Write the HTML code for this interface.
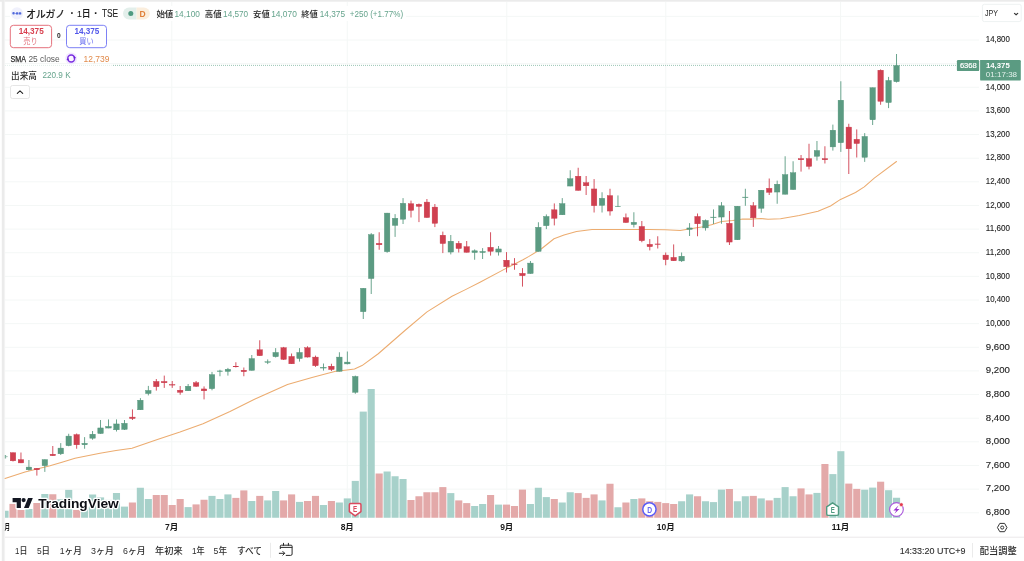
<!DOCTYPE html>
<html lang="ja">
<head>
<meta charset="utf-8">
<title>オルガノ · 1日 · TSE — TradingView</title>
<style>
html,body{margin:0;padding:0;background:#fff;}
body{width:1024px;height:561px;overflow:hidden;position:relative;font-family:"Liberation Sans", "Noto Sans CJK JP", sans-serif;}
#chart{position:absolute;left:0;top:0;width:1024px;height:561px;display:block;will-change:transform;}
#chart text{font-family:"Liberation Sans", "Noto Sans CJK JP", sans-serif;}
</style>
</head>
<body>
<svg id="chart" width="1024" height="561" viewBox="0 0 1024 561">
<g id="frame">
<rect x="0" y="0" width="1024" height="561" fill="#ffffff"/>
<rect x="0" y="0" width="1024" height="1.7" fill="#ebebeb"/>
<rect x="1.8" y="0" width="2.4" height="561" fill="#ebebeb"/>
<rect x="4.2" y="0" width="0.9" height="561" fill="#f1f1f1"/>
</g>
<g id="grid" stroke="#f4f7f6" stroke-width="1" fill="none">
<line x1="5" x2="979" y1="16.36" y2="16.36"/>
<line x1="5" x2="979" y1="40" y2="40"/>
<line x1="5" x2="979" y1="63.64" y2="63.64"/>
<line x1="5" x2="979" y1="87.27" y2="87.27"/>
<line x1="5" x2="979" y1="110.91" y2="110.91"/>
<line x1="5" x2="979" y1="134.55" y2="134.55"/>
<line x1="5" x2="979" y1="158.19" y2="158.19"/>
<line x1="5" x2="979" y1="181.82" y2="181.82"/>
<line x1="5" x2="979" y1="205.46" y2="205.46"/>
<line x1="5" x2="979" y1="229.1" y2="229.1"/>
<line x1="5" x2="979" y1="252.74" y2="252.74"/>
<line x1="5" x2="979" y1="276.37" y2="276.37"/>
<line x1="5" x2="979" y1="300.01" y2="300.01"/>
<line x1="5" x2="979" y1="323.65" y2="323.65"/>
<line x1="5" x2="979" y1="347.29" y2="347.29"/>
<line x1="5" x2="979" y1="370.92" y2="370.92"/>
<line x1="5" x2="979" y1="394.56" y2="394.56"/>
<line x1="5" x2="979" y1="418.2" y2="418.2"/>
<line x1="5" x2="979" y1="441.84" y2="441.84"/>
<line x1="5" x2="979" y1="465.47" y2="465.47"/>
<line x1="5" x2="979" y1="489.11" y2="489.11"/>
<line x1="5" x2="979" y1="512.75" y2="512.75"/>
<line x1="171.75" x2="171.75" y1="2" y2="518"/>
<line x1="347.25" x2="347.25" y1="2" y2="518"/>
<line x1="506.75" x2="506.75" y1="2" y2="518"/>
<line x1="665.75" x2="665.75" y1="2" y2="518"/>
<line x1="840.6" x2="840.6" y1="2" y2="518"/>
</g>
<g id="volume">
<rect x="5" y="510.75" width="3.59" height="7" fill="#a7d1ca"/>
<rect x="9.45" y="503.9" width="7.1" height="13.85" fill="#e3a9a9"/>
<rect x="17.41" y="510" width="7.1" height="7.75" fill="#e3a9a9"/>
<rect x="25.37" y="509" width="7.1" height="8.75" fill="#a7d1ca"/>
<rect x="33.33" y="503" width="7.1" height="14.75" fill="#e3a9a9"/>
<rect x="41.29" y="494" width="7.1" height="23.75" fill="#a7d1ca"/>
<rect x="49.25" y="494.25" width="7.1" height="23.5" fill="#e3a9a9"/>
<rect x="57.21" y="499.25" width="7.1" height="18.5" fill="#a7d1ca"/>
<rect x="65.17" y="489.9" width="7.1" height="27.85" fill="#a7d1ca"/>
<rect x="73.13" y="509.9" width="7.1" height="7.85" fill="#e3a9a9"/>
<rect x="81.09" y="507" width="7.1" height="10.75" fill="#a7d1ca"/>
<rect x="89.05" y="494.5" width="7.1" height="23.25" fill="#a7d1ca"/>
<rect x="97.01" y="497.4" width="7.1" height="20.35" fill="#a7d1ca"/>
<rect x="104.97" y="499.9" width="7.1" height="17.85" fill="#a7d1ca"/>
<rect x="112.93" y="493" width="7.1" height="24.75" fill="#a7d1ca"/>
<rect x="120.89" y="506.6" width="7.1" height="11.15" fill="#a7d1ca"/>
<rect x="128.85" y="502.5" width="7.1" height="15.25" fill="#e3a9a9"/>
<rect x="136.81" y="487.75" width="7.1" height="30" fill="#a7d1ca"/>
<rect x="144.77" y="499" width="7.1" height="18.75" fill="#a7d1ca"/>
<rect x="152.73" y="495" width="7.1" height="22.75" fill="#e3a9a9"/>
<rect x="160.69" y="495" width="7.1" height="22.75" fill="#e3a9a9"/>
<rect x="168.65" y="505" width="7.1" height="12.75" fill="#e3a9a9"/>
<rect x="176.61" y="499" width="7.1" height="18.75" fill="#e3a9a9"/>
<rect x="184.57" y="507.1" width="7.1" height="10.65" fill="#a7d1ca"/>
<rect x="192.53" y="504.4" width="7.1" height="13.35" fill="#e3a9a9"/>
<rect x="200.49" y="499.75" width="7.1" height="18" fill="#e3a9a9"/>
<rect x="208.45" y="495.9" width="7.1" height="21.85" fill="#a7d1ca"/>
<rect x="216.41" y="499" width="7.1" height="18.75" fill="#a7d1ca"/>
<rect x="224.37" y="494.4" width="7.1" height="23.35" fill="#a7d1ca"/>
<rect x="232.33" y="497.9" width="7.1" height="19.85" fill="#e3a9a9"/>
<rect x="240.29" y="490.4" width="7.1" height="27.35" fill="#e3a9a9"/>
<rect x="248.25" y="501" width="7.1" height="16.75" fill="#a7d1ca"/>
<rect x="256.21" y="495.9" width="7.1" height="21.85" fill="#e3a9a9"/>
<rect x="264.17" y="500.4" width="7.1" height="17.35" fill="#a7d1ca"/>
<rect x="272.13" y="491" width="7.1" height="26.75" fill="#a7d1ca"/>
<rect x="280.09" y="500.4" width="7.1" height="17.35" fill="#e3a9a9"/>
<rect x="288.05" y="494.4" width="7.1" height="23.35" fill="#e3a9a9"/>
<rect x="296.01" y="501.9" width="7.1" height="15.85" fill="#a7d1ca"/>
<rect x="303.97" y="501" width="7.1" height="16.75" fill="#e3a9a9"/>
<rect x="311.93" y="495.9" width="7.1" height="21.85" fill="#e3a9a9"/>
<rect x="319.89" y="505" width="7.1" height="12.75" fill="#a7d1ca"/>
<rect x="327.85" y="501" width="7.1" height="16.75" fill="#e3a9a9"/>
<rect x="335.81" y="502.5" width="7.1" height="15.25" fill="#a7d1ca"/>
<rect x="343.77" y="498.4" width="7.1" height="19.35" fill="#a7d1ca"/>
<rect x="351.73" y="480.9" width="7.1" height="36.85" fill="#a7d1ca"/>
<rect x="359.69" y="411.6" width="7.1" height="106.15" fill="#a7d1ca"/>
<rect x="367.65" y="389" width="7.1" height="128.75" fill="#a7d1ca"/>
<rect x="375.61" y="473.5" width="7.1" height="44.25" fill="#e3a9a9"/>
<rect x="383.57" y="471.5" width="7.1" height="46.25" fill="#a7d1ca"/>
<rect x="391.53" y="476.25" width="7.1" height="41.5" fill="#a7d1ca"/>
<rect x="399.49" y="479" width="7.1" height="38.75" fill="#a7d1ca"/>
<rect x="407.45" y="500" width="7.1" height="17.75" fill="#e3a9a9"/>
<rect x="415.41" y="496.25" width="7.1" height="21.5" fill="#e3a9a9"/>
<rect x="423.37" y="492.25" width="7.1" height="25.5" fill="#e3a9a9"/>
<rect x="431.33" y="492.25" width="7.1" height="25.5" fill="#e3a9a9"/>
<rect x="439.29" y="487.1" width="7.1" height="30.65" fill="#e3a9a9"/>
<rect x="447.25" y="493.1" width="7.1" height="24.65" fill="#a7d1ca"/>
<rect x="455.21" y="500.4" width="7.1" height="17.35" fill="#e3a9a9"/>
<rect x="463.17" y="503.1" width="7.1" height="14.65" fill="#e3a9a9"/>
<rect x="471.13" y="506" width="7.1" height="11.75" fill="#a7d1ca"/>
<rect x="479.09" y="504" width="7.1" height="13.75" fill="#a7d1ca"/>
<rect x="487.05" y="495" width="7.1" height="22.75" fill="#e3a9a9"/>
<rect x="495.01" y="504.6" width="7.1" height="13.15" fill="#a7d1ca"/>
<rect x="502.97" y="504.6" width="7.1" height="13.15" fill="#e3a9a9"/>
<rect x="510.93" y="506" width="7.1" height="11.75" fill="#e3a9a9"/>
<rect x="518.89" y="489.6" width="7.1" height="28.15" fill="#e3a9a9"/>
<rect x="526.85" y="504" width="7.1" height="13.75" fill="#a7d1ca"/>
<rect x="534.81" y="487.75" width="7.1" height="30" fill="#a7d1ca"/>
<rect x="542.77" y="497.1" width="7.1" height="20.65" fill="#a7d1ca"/>
<rect x="550.73" y="499" width="7.1" height="18.75" fill="#e3a9a9"/>
<rect x="558.69" y="502.5" width="7.1" height="15.25" fill="#a7d1ca"/>
<rect x="566.65" y="492.25" width="7.1" height="25.5" fill="#a7d1ca"/>
<rect x="574.61" y="493.1" width="7.1" height="24.65" fill="#e3a9a9"/>
<rect x="582.57" y="497.9" width="7.1" height="19.85" fill="#e3a9a9"/>
<rect x="590.53" y="494.4" width="7.1" height="23.35" fill="#e3a9a9"/>
<rect x="598.49" y="500.4" width="7.1" height="17.35" fill="#a7d1ca"/>
<rect x="606.45" y="483.75" width="7.1" height="34" fill="#e3a9a9"/>
<rect x="614.41" y="507.25" width="7.1" height="10.5" fill="#a7d1ca"/>
<rect x="622.37" y="502.5" width="7.1" height="15.25" fill="#e3a9a9"/>
<rect x="630.33" y="499" width="7.1" height="18.75" fill="#a7d1ca"/>
<rect x="638.29" y="498.4" width="7.1" height="19.35" fill="#e3a9a9"/>
<rect x="646.25" y="501.25" width="7.1" height="16.5" fill="#e3a9a9"/>
<rect x="654.21" y="501.9" width="7.1" height="15.85" fill="#e3a9a9"/>
<rect x="662.17" y="503.1" width="7.1" height="14.65" fill="#e3a9a9"/>
<rect x="670.13" y="504" width="7.1" height="13.75" fill="#e3a9a9"/>
<rect x="678.09" y="501.25" width="7.1" height="16.5" fill="#a7d1ca"/>
<rect x="686.05" y="494.4" width="7.1" height="23.35" fill="#a7d1ca"/>
<rect x="694.01" y="496.25" width="7.1" height="21.5" fill="#e3a9a9"/>
<rect x="701.97" y="501.25" width="7.1" height="16.5" fill="#a7d1ca"/>
<rect x="709.93" y="502.1" width="7.1" height="15.65" fill="#a7d1ca"/>
<rect x="717.89" y="489.6" width="7.1" height="28.15" fill="#a7d1ca"/>
<rect x="725.85" y="489" width="7.1" height="28.75" fill="#e3a9a9"/>
<rect x="733.81" y="501.25" width="7.1" height="16.5" fill="#a7d1ca"/>
<rect x="741.77" y="496.25" width="7.1" height="21.5" fill="#a7d1ca"/>
<rect x="749.73" y="495.9" width="7.1" height="21.85" fill="#e3a9a9"/>
<rect x="757.69" y="498.4" width="7.1" height="19.35" fill="#a7d1ca"/>
<rect x="765.65" y="500.4" width="7.1" height="17.35" fill="#e3a9a9"/>
<rect x="773.61" y="497.9" width="7.1" height="19.85" fill="#a7d1ca"/>
<rect x="781.57" y="487.1" width="7.1" height="30.65" fill="#a7d1ca"/>
<rect x="789.53" y="496.25" width="7.1" height="21.5" fill="#a7d1ca"/>
<rect x="797.49" y="488.4" width="7.1" height="29.35" fill="#e3a9a9"/>
<rect x="805.45" y="494.4" width="7.1" height="23.35" fill="#e3a9a9"/>
<rect x="813.41" y="492.9" width="7.1" height="24.85" fill="#a7d1ca"/>
<rect x="821.37" y="464" width="7.1" height="53.75" fill="#e3a9a9"/>
<rect x="829.33" y="474.1" width="7.1" height="43.65" fill="#a7d1ca"/>
<rect x="837.29" y="451.2" width="7.1" height="66.55" fill="#a7d1ca"/>
<rect x="845.25" y="483.6" width="7.1" height="34.15" fill="#e3a9a9"/>
<rect x="853.21" y="488.9" width="7.1" height="28.85" fill="#e3a9a9"/>
<rect x="861.17" y="489.7" width="7.1" height="28.05" fill="#a7d1ca"/>
<rect x="869.13" y="487.6" width="7.1" height="30.15" fill="#a7d1ca"/>
<rect x="877.09" y="481.7" width="7.1" height="36.05" fill="#e3a9a9"/>
<rect x="885.05" y="490.2" width="7.1" height="27.55" fill="#a7d1ca"/>
<rect x="893.01" y="497.75" width="7.1" height="20" fill="#a7d1ca"/>
</g>
<polyline id="sma" points="5,478.4 15,475.2 25,471.9 50,465.7 62,462.2 75,458.2 100,453.2 116,450.6 132,448.2 157.4,439.4 180,432 203,423.75 230,411.5 254.5,399.3 287.5,384.4 312,377.5 328,373.2 335.75,371.25 347,370 354.5,369.1 362,365.6 378.25,353.75 405.5,330 427,311.9 452,296.25 466,289.4 480,282.2 506.5,268.1 523,259.8 529,256.4 541.5,248.75 554,238.75 564,235 576.5,231.5 592,229.4 624,229.4 649,229.4 665.25,229.75 680.25,230.4 689,229 701.5,226.9 711.5,224.75 721.5,221.5 732.75,220.6 742.75,219.1 752,219.1 761,218.5 768,219.3 780.5,218.75 799.25,215.6 818,211.25 830.5,206 840.5,199.4 855.5,192.5 864.25,186.9 874.25,178.1 896.5,161.5" fill="none" stroke="#ecac70" stroke-width="1.05" stroke-linejoin="round" stroke-linecap="round"/>
<line id="priceline" x1="5" x2="957" y1="65.4" y2="65.4" stroke="#8fc0ad" stroke-width="0.9" stroke-dasharray="1 1"/>
<rect x="5" y="64" width="107" height="3" fill="#fff" opacity="0.72"/>
<g id="candles">
<rect x="4.8" y="455" width="1.3" height="3.5" fill="#5b9b82" opacity="0.75"/>
<rect x="6" y="456.2" width="1.7" height="0.9" fill="#5b9b82" opacity="0.6"/>
<rect x="12.55" y="452.5" width="0.9" height="9" fill="#d04050"/>
<rect x="10.25" y="452.7" width="5.5" height="8.1" fill="#d04050" stroke="#c93a4b" stroke-width="0.4"/>
<rect x="20.51" y="452.5" width="0.9" height="10.6" fill="#d04050"/>
<rect x="18.21" y="459.6" width="5.5" height="3.3" fill="#d04050" stroke="#c93a4b" stroke-width="0.4"/>
<rect x="28.47" y="460" width="0.9" height="10.6" fill="#5b9b82"/>
<rect x="26.17" y="467.1" width="5.5" height="2.7" fill="#5b9b82" stroke="#529378" stroke-width="0.4"/>
<rect x="36.43" y="468.1" width="0.9" height="7.5" fill="#d04050"/>
<rect x="34.13" y="468.3" width="5.5" height="1.5" fill="#d04050" stroke="#c93a4b" stroke-width="0.4"/>
<rect x="44.39" y="459.4" width="0.9" height="12.5" fill="#5b9b82"/>
<rect x="42.09" y="459.6" width="5.5" height="6.1" fill="#5b9b82" stroke="#529378" stroke-width="0.4"/>
<rect x="52.35" y="446" width="0.9" height="9.9" fill="#d04050"/>
<rect x="50.05" y="454.2" width="5.5" height="1.5" fill="#d04050" stroke="#c93a4b" stroke-width="0.4"/>
<rect x="60.31" y="443.1" width="0.9" height="11.9" fill="#5b9b82"/>
<rect x="58.01" y="448.1" width="5.5" height="5.7" fill="#5b9b82" stroke="#529378" stroke-width="0.4"/>
<rect x="68.27" y="433.75" width="0.9" height="12.5" fill="#5b9b82"/>
<rect x="65.97" y="436.1" width="5.5" height="9.6" fill="#5b9b82" stroke="#529378" stroke-width="0.4"/>
<rect x="76.23" y="433.5" width="0.9" height="15.25" fill="#d04050"/>
<rect x="73.93" y="434.6" width="5.5" height="10.2" fill="#d04050" stroke="#c93a4b" stroke-width="0.4"/>
<rect x="84.19" y="437.1" width="0.9" height="11.65" fill="#5b9b82"/>
<rect x="81.89" y="443.3" width="5.5" height="1.5" fill="#5b9b82" stroke="#529378" stroke-width="0.4"/>
<rect x="92.15" y="431" width="0.9" height="8.75" fill="#5b9b82"/>
<rect x="89.85" y="434.2" width="5.5" height="4" fill="#5b9b82" stroke="#529378" stroke-width="0.4"/>
<rect x="100.11" y="420" width="0.9" height="13.75" fill="#5b9b82"/>
<rect x="97.81" y="427.95" width="5.5" height="5.6" fill="#5b9b82" stroke="#529378" stroke-width="0.4"/>
<rect x="108.07" y="419.4" width="0.9" height="8.85" fill="#5b9b82"/>
<rect x="105.77" y="426.45" width="5.5" height="1.6" fill="#5b9b82" stroke="#529378" stroke-width="0.4"/>
<rect x="116.03" y="419.4" width="0.9" height="12.1" fill="#5b9b82"/>
<rect x="113.73" y="423.95" width="5.5" height="5.85" fill="#5b9b82" stroke="#529378" stroke-width="0.4"/>
<rect x="123.99" y="420" width="0.9" height="10" fill="#5b9b82"/>
<rect x="121.69" y="423.3" width="5.5" height="6.1" fill="#5b9b82" stroke="#529378" stroke-width="0.4"/>
<rect x="131.95" y="409.4" width="0.9" height="10.6" fill="#d04050"/>
<rect x="129.65" y="417.1" width="5.5" height="1.45" fill="#d04050" stroke="#c93a4b" stroke-width="0.4"/>
<rect x="139.91" y="398.1" width="0.9" height="11.9" fill="#5b9b82"/>
<rect x="137.61" y="400.2" width="5.5" height="9.6" fill="#5b9b82" stroke="#529378" stroke-width="0.4"/>
<rect x="147.87" y="385.9" width="0.9" height="9.5" fill="#5b9b82"/>
<rect x="145.57" y="390.45" width="5.5" height="3.1" fill="#5b9b82" stroke="#529378" stroke-width="0.4"/>
<rect x="155.83" y="379" width="0.9" height="11.6" fill="#d04050"/>
<rect x="153.53" y="381.45" width="5.5" height="5.25" fill="#d04050" stroke="#c93a4b" stroke-width="0.4"/>
<rect x="163.79" y="375.6" width="0.9" height="12.3" fill="#d04050"/>
<rect x="161.49" y="381.45" width="5.5" height="1.35" fill="#d04050" stroke="#c93a4b" stroke-width="0.4"/>
<rect x="171.75" y="381" width="0.9" height="6.9" fill="#d04050"/>
<rect x="169.45" y="384.6" width="5.5" height="0.5" fill="#d04050" stroke="#c93a4b" stroke-width="0.4"/>
<rect x="179.71" y="386" width="0.9" height="8.75" fill="#d04050"/>
<rect x="177.41" y="390.2" width="5.5" height="2.1" fill="#d04050" stroke="#c93a4b" stroke-width="0.4"/>
<rect x="187.67" y="384" width="0.9" height="7" fill="#5b9b82"/>
<rect x="185.37" y="386.2" width="5.5" height="4.6" fill="#5b9b82" stroke="#529378" stroke-width="0.4"/>
<rect x="195.63" y="381" width="0.9" height="5.9" fill="#d04050"/>
<rect x="193.33" y="382.7" width="5.5" height="3.6" fill="#d04050" stroke="#c93a4b" stroke-width="0.4"/>
<rect x="203.59" y="386.4" width="0.9" height="13" fill="#d04050"/>
<rect x="201.29" y="388.95" width="5.5" height="1.85" fill="#d04050" stroke="#c93a4b" stroke-width="0.4"/>
<rect x="211.55" y="371.9" width="0.9" height="18.4" fill="#5b9b82"/>
<rect x="209.25" y="374.6" width="5.5" height="14.1" fill="#5b9b82" stroke="#529378" stroke-width="0.4"/>
<rect x="219.51" y="369.75" width="0.9" height="6.5" fill="#5b9b82"/>
<rect x="217.21" y="370.95" width="5.5" height="0.5" fill="#5b9b82" stroke="#529378" stroke-width="0.4"/>
<rect x="227.47" y="367.9" width="0.9" height="7.7" fill="#5b9b82"/>
<rect x="225.17" y="369.3" width="5.5" height="2.1" fill="#5b9b82" stroke="#529378" stroke-width="0.4"/>
<rect x="235.43" y="362.25" width="0.9" height="5.25" fill="#d04050"/>
<rect x="233.13" y="366.2" width="5.5" height="0.6" fill="#d04050" stroke="#c93a4b" stroke-width="0.4"/>
<rect x="243.39" y="367.5" width="0.9" height="8.75" fill="#d04050"/>
<rect x="241.09" y="370.2" width="5.5" height="1.5" fill="#d04050" stroke="#c93a4b" stroke-width="0.4"/>
<rect x="251.35" y="355" width="0.9" height="15.6" fill="#5b9b82"/>
<rect x="249.05" y="358.6" width="5.5" height="11.8" fill="#5b9b82" stroke="#529378" stroke-width="0.4"/>
<rect x="259.31" y="340.25" width="0.9" height="15.65" fill="#d04050"/>
<rect x="257.01" y="349.8" width="5.5" height="5.9" fill="#d04050" stroke="#c93a4b" stroke-width="0.4"/>
<rect x="267.27" y="359.4" width="0.9" height="4.7" fill="#5b9b82"/>
<rect x="264.97" y="361.8" width="5.5" height="0.5" fill="#5b9b82" stroke="#529378" stroke-width="0.4"/>
<rect x="275.23" y="348.1" width="0.9" height="9.4" fill="#5b9b82"/>
<rect x="272.93" y="352.45" width="5.5" height="4.25" fill="#5b9b82" stroke="#529378" stroke-width="0.4"/>
<rect x="283.19" y="346.9" width="0.9" height="13.1" fill="#d04050"/>
<rect x="280.89" y="347.7" width="5.5" height="11.7" fill="#d04050" stroke="#c93a4b" stroke-width="0.4"/>
<rect x="291.15" y="353.5" width="0.9" height="10.5" fill="#d04050"/>
<rect x="288.85" y="356.45" width="5.5" height="7.35" fill="#d04050" stroke="#c93a4b" stroke-width="0.4"/>
<rect x="299.11" y="348.1" width="0.9" height="13.5" fill="#5b9b82"/>
<rect x="296.81" y="352.45" width="5.5" height="6.1" fill="#5b9b82" stroke="#529378" stroke-width="0.4"/>
<rect x="307.07" y="346.25" width="0.9" height="11.25" fill="#d04050"/>
<rect x="304.77" y="347.7" width="5.5" height="9.35" fill="#d04050" stroke="#c93a4b" stroke-width="0.4"/>
<rect x="315.03" y="355.6" width="0.9" height="11.3" fill="#d04050"/>
<rect x="312.73" y="357.1" width="5.5" height="8.6" fill="#d04050" stroke="#c93a4b" stroke-width="0.4"/>
<rect x="322.99" y="363.5" width="0.9" height="7.1" fill="#5b9b82"/>
<rect x="320.69" y="367.45" width="5.5" height="0.6" fill="#5b9b82" stroke="#529378" stroke-width="0.4"/>
<rect x="330.95" y="363.75" width="0.9" height="7.25" fill="#d04050"/>
<rect x="328.65" y="366.2" width="5.5" height="3.35" fill="#d04050" stroke="#c93a4b" stroke-width="0.4"/>
<rect x="338.91" y="352.25" width="0.9" height="19.25" fill="#5b9b82"/>
<rect x="336.61" y="357.1" width="5.5" height="14.2" fill="#5b9b82" stroke="#529378" stroke-width="0.4"/>
<rect x="346.87" y="351.5" width="0.9" height="12.9" fill="#5b9b82"/>
<rect x="344.57" y="362.1" width="5.5" height="1.8" fill="#5b9b82" stroke="#529378" stroke-width="0.4"/>
<rect x="354.83" y="375.6" width="0.9" height="18.15" fill="#5b9b82"/>
<rect x="352.53" y="376.45" width="5.5" height="15.85" fill="#5b9b82" stroke="#529378" stroke-width="0.4"/>
<rect x="362.79" y="288.1" width="0.9" height="30.9" fill="#5b9b82"/>
<rect x="360.49" y="288.3" width="5.5" height="23.4" fill="#5b9b82" stroke="#529378" stroke-width="0.4"/>
<rect x="370.75" y="233.1" width="0.9" height="60.9" fill="#5b9b82"/>
<rect x="368.45" y="234.6" width="5.5" height="43.95" fill="#5b9b82" stroke="#529378" stroke-width="0.4"/>
<rect x="378.71" y="232.25" width="0.9" height="17.5" fill="#d04050"/>
<rect x="376.41" y="243.3" width="5.5" height="1.5" fill="#d04050" stroke="#c93a4b" stroke-width="0.4"/>
<rect x="386.67" y="212.9" width="0.9" height="39.85" fill="#5b9b82"/>
<rect x="384.37" y="213.1" width="5.5" height="38.6" fill="#5b9b82" stroke="#529378" stroke-width="0.4"/>
<rect x="394.63" y="214.1" width="0.9" height="22.8" fill="#5b9b82"/>
<rect x="392.33" y="218.3" width="5.5" height="7.1" fill="#5b9b82" stroke="#529378" stroke-width="0.4"/>
<rect x="402.59" y="198.1" width="0.9" height="25.9" fill="#5b9b82"/>
<rect x="400.29" y="203.3" width="5.5" height="15.9" fill="#5b9b82" stroke="#529378" stroke-width="0.4"/>
<rect x="410.55" y="200.6" width="0.9" height="16.9" fill="#d04050"/>
<rect x="408.25" y="203.7" width="5.5" height="6.7" fill="#d04050" stroke="#c93a4b" stroke-width="0.4"/>
<rect x="418.51" y="203.5" width="0.9" height="18.6" fill="#d04050"/>
<rect x="416.21" y="204.3" width="5.5" height="2.1" fill="#d04050" stroke="#c93a4b" stroke-width="0.4"/>
<rect x="426.47" y="199" width="0.9" height="18.75" fill="#d04050"/>
<rect x="424.17" y="202.1" width="5.5" height="15.45" fill="#d04050" stroke="#c93a4b" stroke-width="0.4"/>
<rect x="434.43" y="204" width="0.9" height="23.1" fill="#d04050"/>
<rect x="432.13" y="207.1" width="5.5" height="16.2" fill="#d04050" stroke="#c93a4b" stroke-width="0.4"/>
<rect x="442.39" y="231.6" width="0.9" height="21.5" fill="#d04050"/>
<rect x="440.09" y="235.2" width="5.5" height="8.35" fill="#d04050" stroke="#c93a4b" stroke-width="0.4"/>
<rect x="450.35" y="235" width="0.9" height="19.4" fill="#5b9b82"/>
<rect x="448.05" y="241.2" width="5.5" height="10.85" fill="#5b9b82" stroke="#529378" stroke-width="0.4"/>
<rect x="458.31" y="241" width="0.9" height="11.5" fill="#d04050"/>
<rect x="456.01" y="243.3" width="5.5" height="5.25" fill="#d04050" stroke="#c93a4b" stroke-width="0.4"/>
<rect x="466.27" y="241" width="0.9" height="11.5" fill="#d04050"/>
<rect x="463.97" y="246.7" width="5.5" height="5.6" fill="#d04050" stroke="#c93a4b" stroke-width="0.4"/>
<rect x="474.23" y="249.4" width="0.9" height="10.35" fill="#5b9b82"/>
<rect x="471.93" y="250.8" width="5.5" height="1.75" fill="#5b9b82" stroke="#529378" stroke-width="0.4"/>
<rect x="482.19" y="248.1" width="0.9" height="10.9" fill="#5b9b82"/>
<rect x="479.89" y="251.45" width="5.5" height="1.1" fill="#5b9b82" stroke="#529378" stroke-width="0.4"/>
<rect x="490.15" y="232.25" width="0.9" height="23.35" fill="#d04050"/>
<rect x="487.85" y="247.3" width="5.5" height="4" fill="#d04050" stroke="#c93a4b" stroke-width="0.4"/>
<rect x="498.11" y="246" width="0.9" height="9.6" fill="#5b9b82"/>
<rect x="495.81" y="248.95" width="5.5" height="3.1" fill="#5b9b82" stroke="#529378" stroke-width="0.4"/>
<rect x="506.07" y="252.1" width="0.9" height="20.4" fill="#d04050"/>
<rect x="503.77" y="260.2" width="5.5" height="6.5" fill="#d04050" stroke="#c93a4b" stroke-width="0.4"/>
<rect x="514.03" y="258.1" width="0.9" height="11.65" fill="#d04050"/>
<rect x="511.73" y="263.95" width="5.5" height="0.6" fill="#d04050" stroke="#c93a4b" stroke-width="0.4"/>
<rect x="521.99" y="268.1" width="0.9" height="18.5" fill="#d04050"/>
<rect x="519.69" y="273.3" width="5.5" height="2.4" fill="#d04050" stroke="#c93a4b" stroke-width="0.4"/>
<rect x="529.95" y="261" width="0.9" height="12.75" fill="#5b9b82"/>
<rect x="527.65" y="263.1" width="5.5" height="10.45" fill="#5b9b82" stroke="#529378" stroke-width="0.4"/>
<rect x="537.91" y="222.25" width="0.9" height="29.35" fill="#5b9b82"/>
<rect x="535.61" y="227.3" width="5.5" height="24.1" fill="#5b9b82" stroke="#529378" stroke-width="0.4"/>
<rect x="545.87" y="214.4" width="0.9" height="14.7" fill="#5b9b82"/>
<rect x="543.57" y="216.45" width="5.5" height="9.25" fill="#5b9b82" stroke="#529378" stroke-width="0.4"/>
<rect x="553.83" y="203.4" width="0.9" height="22" fill="#d04050"/>
<rect x="551.53" y="209.8" width="5.5" height="8.5" fill="#d04050" stroke="#c93a4b" stroke-width="0.4"/>
<rect x="561.79" y="198.1" width="0.9" height="16.9" fill="#5b9b82"/>
<rect x="559.49" y="203.6" width="5.5" height="11.2" fill="#5b9b82" stroke="#529378" stroke-width="0.4"/>
<rect x="569.75" y="170.25" width="0.9" height="16" fill="#5b9b82"/>
<rect x="567.45" y="178.7" width="5.5" height="7.35" fill="#5b9b82" stroke="#529378" stroke-width="0.4"/>
<rect x="577.71" y="167.75" width="0.9" height="22.85" fill="#d04050"/>
<rect x="575.41" y="176.2" width="5.5" height="14.2" fill="#d04050" stroke="#c93a4b" stroke-width="0.4"/>
<rect x="585.67" y="176" width="0.9" height="19" fill="#d04050"/>
<rect x="583.37" y="182.7" width="5.5" height="3.1" fill="#d04050" stroke="#c93a4b" stroke-width="0.4"/>
<rect x="593.63" y="179.1" width="0.9" height="33.4" fill="#d04050"/>
<rect x="591.33" y="188.95" width="5.5" height="16.75" fill="#d04050" stroke="#c93a4b" stroke-width="0.4"/>
<rect x="601.59" y="192.25" width="0.9" height="20.25" fill="#5b9b82"/>
<rect x="599.29" y="198.3" width="5.5" height="7.1" fill="#5b9b82" stroke="#529378" stroke-width="0.4"/>
<rect x="609.55" y="188.75" width="0.9" height="26.85" fill="#d04050"/>
<rect x="607.25" y="195.6" width="5.5" height="15.45" fill="#d04050" stroke="#c93a4b" stroke-width="0.4"/>
<rect x="617.51" y="195.4" width="0.9" height="11.35" fill="#5b9b82"/>
<rect x="615.21" y="206.2" width="5.5" height="0.5" fill="#5b9b82" stroke="#529378" stroke-width="0.4"/>
<rect x="625.47" y="213.5" width="0.9" height="9.25" fill="#d04050"/>
<rect x="623.17" y="217.7" width="5.5" height="4.85" fill="#d04050" stroke="#c93a4b" stroke-width="0.4"/>
<rect x="633.43" y="212.25" width="0.9" height="15.25" fill="#5b9b82"/>
<rect x="631.13" y="222.3" width="5.5" height="2.25" fill="#5b9b82" stroke="#529378" stroke-width="0.4"/>
<rect x="641.39" y="221" width="0.9" height="21.25" fill="#d04050"/>
<rect x="639.09" y="226.45" width="5.5" height="14.25" fill="#d04050" stroke="#c93a4b" stroke-width="0.4"/>
<rect x="649.35" y="239.1" width="0.9" height="11.3" fill="#d04050"/>
<rect x="647.05" y="244.3" width="5.5" height="2.4" fill="#d04050" stroke="#c93a4b" stroke-width="0.4"/>
<rect x="657.31" y="236.25" width="0.9" height="12.25" fill="#d04050"/>
<rect x="655.01" y="243.95" width="5.5" height="0.5" fill="#d04050" stroke="#c93a4b" stroke-width="0.4"/>
<rect x="665.27" y="252.5" width="0.9" height="12.75" fill="#d04050"/>
<rect x="662.97" y="255.1" width="5.5" height="4.6" fill="#d04050" stroke="#c93a4b" stroke-width="0.4"/>
<rect x="673.23" y="244.4" width="0.9" height="16.6" fill="#d04050"/>
<rect x="670.93" y="257.4" width="5.5" height="3.4" fill="#d04050" stroke="#c93a4b" stroke-width="0.4"/>
<rect x="681.19" y="252.5" width="0.9" height="9.4" fill="#5b9b82"/>
<rect x="678.89" y="256.2" width="5.5" height="4.7" fill="#5b9b82" stroke="#529378" stroke-width="0.4"/>
<rect x="689.15" y="223.1" width="0.9" height="12.9" fill="#5b9b82"/>
<rect x="686.85" y="227.95" width="5.5" height="1.45" fill="#5b9b82" stroke="#529378" stroke-width="0.4"/>
<rect x="697.11" y="213.5" width="0.9" height="22.75" fill="#d04050"/>
<rect x="694.81" y="216.45" width="5.5" height="7.35" fill="#d04050" stroke="#c93a4b" stroke-width="0.4"/>
<rect x="705.07" y="219.5" width="0.9" height="11.1" fill="#5b9b82"/>
<rect x="702.77" y="220.45" width="5.5" height="7.45" fill="#5b9b82" stroke="#529378" stroke-width="0.4"/>
<rect x="713.03" y="209.4" width="0.9" height="14.6" fill="#5b9b82"/>
<rect x="710.73" y="217.1" width="5.5" height="0.6" fill="#5b9b82" stroke="#529378" stroke-width="0.4"/>
<rect x="720.99" y="202.1" width="0.9" height="21.65" fill="#5b9b82"/>
<rect x="718.69" y="205.8" width="5.5" height="11.25" fill="#5b9b82" stroke="#529378" stroke-width="0.4"/>
<rect x="728.95" y="211" width="0.9" height="34" fill="#d04050"/>
<rect x="726.65" y="223.3" width="5.5" height="18.75" fill="#d04050" stroke="#c93a4b" stroke-width="0.4"/>
<rect x="736.91" y="206" width="0.9" height="34" fill="#5b9b82"/>
<rect x="734.61" y="206.2" width="5.5" height="33.6" fill="#5b9b82" stroke="#529378" stroke-width="0.4"/>
<rect x="744.87" y="188.75" width="0.9" height="17.05" fill="#5b9b82"/>
<rect x="742.57" y="197.1" width="5.5" height="0.6" fill="#5b9b82" stroke="#529378" stroke-width="0.4"/>
<rect x="752.83" y="202.1" width="0.9" height="24.8" fill="#d04050"/>
<rect x="750.53" y="205.7" width="5.5" height="12.1" fill="#d04050" stroke="#c93a4b" stroke-width="0.4"/>
<rect x="760.79" y="190" width="0.9" height="22.75" fill="#5b9b82"/>
<rect x="758.49" y="190.2" width="5.5" height="18.1" fill="#5b9b82" stroke="#529378" stroke-width="0.4"/>
<rect x="768.75" y="178.5" width="0.9" height="16.5" fill="#d04050"/>
<rect x="766.45" y="188.3" width="5.5" height="4" fill="#d04050" stroke="#c93a4b" stroke-width="0.4"/>
<rect x="776.71" y="180.6" width="0.9" height="23.15" fill="#5b9b82"/>
<rect x="774.41" y="184.2" width="5.5" height="7.85" fill="#5b9b82" stroke="#529378" stroke-width="0.4"/>
<rect x="784.67" y="156.25" width="0.9" height="38.15" fill="#5b9b82"/>
<rect x="782.37" y="174.6" width="5.5" height="19.6" fill="#5b9b82" stroke="#529378" stroke-width="0.4"/>
<rect x="792.63" y="161.25" width="0.9" height="28.5" fill="#5b9b82"/>
<rect x="790.33" y="172.7" width="5.5" height="16.85" fill="#5b9b82" stroke="#529378" stroke-width="0.4"/>
<rect x="800.59" y="155" width="0.9" height="16.6" fill="#d04050"/>
<rect x="798.29" y="158.6" width="5.5" height="1.2" fill="#d04050" stroke="#c93a4b" stroke-width="0.4"/>
<rect x="808.55" y="143.75" width="0.9" height="25.65" fill="#d04050"/>
<rect x="806.25" y="158.6" width="5.5" height="7.8" fill="#d04050" stroke="#c93a4b" stroke-width="0.4"/>
<rect x="816.51" y="141" width="0.9" height="19.6" fill="#5b9b82"/>
<rect x="814.21" y="150.5" width="5.5" height="5.8" fill="#5b9b82" stroke="#529378" stroke-width="0.4"/>
<rect x="824.47" y="146.25" width="0.9" height="17.25" fill="#d04050"/>
<rect x="822.17" y="158.6" width="5.5" height="1.2" fill="#d04050" stroke="#c93a4b" stroke-width="0.4"/>
<rect x="832.43" y="124.6" width="0.9" height="26" fill="#5b9b82"/>
<rect x="830.13" y="130.2" width="5.5" height="16.7" fill="#5b9b82" stroke="#529378" stroke-width="0.4"/>
<rect x="840.39" y="81.25" width="0.9" height="70.65" fill="#5b9b82"/>
<rect x="838.09" y="100.2" width="5.5" height="42.5" fill="#5b9b82" stroke="#529378" stroke-width="0.4"/>
<rect x="848.35" y="123.75" width="0.9" height="50.25" fill="#d04050"/>
<rect x="846.05" y="127.1" width="5.5" height="21.7" fill="#d04050" stroke="#c93a4b" stroke-width="0.4"/>
<rect x="856.31" y="129.4" width="0.9" height="28.1" fill="#d04050"/>
<rect x="854.01" y="139.3" width="5.5" height="4.25" fill="#d04050" stroke="#c93a4b" stroke-width="0.4"/>
<rect x="864.27" y="133.1" width="0.9" height="28.8" fill="#5b9b82"/>
<rect x="861.97" y="136.45" width="5.5" height="20.85" fill="#5b9b82" stroke="#529378" stroke-width="0.4"/>
<rect x="872.23" y="87.5" width="0.9" height="37.5" fill="#5b9b82"/>
<rect x="869.93" y="87.7" width="5.5" height="32.1" fill="#5b9b82" stroke="#529378" stroke-width="0.4"/>
<rect x="880.19" y="69.4" width="0.9" height="35.35" fill="#d04050"/>
<rect x="877.89" y="70.2" width="5.5" height="31.1" fill="#d04050" stroke="#c93a4b" stroke-width="0.4"/>
<rect x="888.15" y="76.9" width="0.9" height="31.2" fill="#5b9b82"/>
<rect x="885.85" y="80.45" width="5.5" height="22.1" fill="#5b9b82" stroke="#529378" stroke-width="0.4"/>
<rect x="896.11" y="54" width="0.9" height="28.5" fill="#5b9b82"/>
<rect x="893.81" y="65.6" width="5.5" height="16.1" fill="#5b9b82" stroke="#529378" stroke-width="0.4"/>
</g>
<g id="markers">
<path d="M350.55 503.45h9.2a1.2 1.2 0 0 1 1.2 1.2v6.9l-5.8 4.4-5.8-4.4v-6.9a1.2 1.2 0 0 1 1.2-1.2z" fill="#fff" stroke="#da4a5e" stroke-width="1.5" stroke-linejoin="round"/>
<text x="355.15" y="512.3" font-size="9.1" fill="#da4a5e" font-weight="bold" text-anchor="middle" textLength="4.2" lengthAdjust="spacingAndGlyphs">E</text>
<circle cx="649.4" cy="509.3" r="6.65" fill="#fff" stroke="#5a5cf7" stroke-width="1.5"/>
<text x="649.6" y="512.6" font-size="8.9" fill="#6467f3" font-weight="bold" text-anchor="middle" textLength="4.9" lengthAdjust="spacingAndGlyphs">D</text>
<path d="M832.6 502.8l5.9 4v7.1a1.5 1.5 0 0 1-1.5 1.5h-8.8a1.5 1.5 0 0 1-1.5-1.5v-7.1z" fill="#fff" stroke="#4f9a80" stroke-width="1.4" stroke-linejoin="round"/>
<text x="832.7" y="512.7" font-size="8.7" fill="#4f9a80" font-weight="bold" text-anchor="middle" textLength="4.1" lengthAdjust="spacingAndGlyphs">E</text>
<circle cx="896.45" cy="509.5" r="6.85" fill="#fff" stroke="#ab5bdc" stroke-width="1.15"/>
<path d="M898.4 505.6l-5 5h2.9l-1.9 3.2 5.1-4.9h-3l2-3.3z" fill="#9a2fd0"/>
<circle cx="901.3" cy="504.7" r="1.9" fill="#e23b4f" stroke="#fff" stroke-width="0.5"/>
</g>
<g id="logo">
<g stroke="#fff" stroke-width="2.6" stroke-linejoin="round" fill="#fff">
<path d="M12.6 498h8.3v10.1h-4.2v-5.9h-4.1z"/><circle cx="23.6" cy="500.1" r="2.1"/><path d="M28.1 498h4.7l-4.1 10.1h-4.7z"/>
</g>
<path d="M12.6 498h8.3v10.1h-4.2v-5.9h-4.1z" fill="#131722"/><circle cx="23.6" cy="500.1" r="2.1" fill="#131722"/><path d="M28.1 498h4.7l-4.1 10.1h-4.7z" fill="#131722"/>
<text x="38.2" y="508" font-size="13.2" fill="#fff" font-weight="bold" textLength="80.6" lengthAdjust="spacingAndGlyphs" stroke="#fff" stroke-width="2.6" stroke-linejoin="round">TradingView</text>
<text x="38.2" y="508" font-size="13.2" fill="#0c0e14" font-weight="bold" textLength="80.6" lengthAdjust="spacingAndGlyphs">TradingView</text>
</g>
<g id="priceaxis">
<text x="985.8" y="42.3" font-size="8.3" fill="#1e1e1e" textLength="24.1" lengthAdjust="spacingAndGlyphs" stroke="#1e1e1e" stroke-width="0.12">14,800</text>
<text x="985.8" y="89.57" font-size="8.3" fill="#1e1e1e" textLength="24.1" lengthAdjust="spacingAndGlyphs" stroke="#1e1e1e" stroke-width="0.12">14,000</text>
<text x="985.8" y="113.21" font-size="8.3" fill="#1e1e1e" textLength="24.1" lengthAdjust="spacingAndGlyphs" stroke="#1e1e1e" stroke-width="0.12">13,600</text>
<text x="985.8" y="136.85" font-size="8.3" fill="#1e1e1e" textLength="24.1" lengthAdjust="spacingAndGlyphs" stroke="#1e1e1e" stroke-width="0.12">13,200</text>
<text x="985.8" y="160.49" font-size="8.3" fill="#1e1e1e" textLength="24.1" lengthAdjust="spacingAndGlyphs" stroke="#1e1e1e" stroke-width="0.12">12,800</text>
<text x="985.8" y="184.12" font-size="8.3" fill="#1e1e1e" textLength="24.1" lengthAdjust="spacingAndGlyphs" stroke="#1e1e1e" stroke-width="0.12">12,400</text>
<text x="985.8" y="207.76" font-size="8.3" fill="#1e1e1e" textLength="24.1" lengthAdjust="spacingAndGlyphs" stroke="#1e1e1e" stroke-width="0.12">12,000</text>
<text x="985.8" y="231.4" font-size="8.3" fill="#1e1e1e" textLength="24.1" lengthAdjust="spacingAndGlyphs" stroke="#1e1e1e" stroke-width="0.12">11,600</text>
<text x="985.8" y="255.04" font-size="8.3" fill="#1e1e1e" textLength="24.1" lengthAdjust="spacingAndGlyphs" stroke="#1e1e1e" stroke-width="0.12">11,200</text>
<text x="985.8" y="278.67" font-size="8.3" fill="#1e1e1e" textLength="24.1" lengthAdjust="spacingAndGlyphs" stroke="#1e1e1e" stroke-width="0.12">10,800</text>
<text x="985.8" y="302.31" font-size="8.3" fill="#1e1e1e" textLength="24.1" lengthAdjust="spacingAndGlyphs" stroke="#1e1e1e" stroke-width="0.12">10,400</text>
<text x="985.8" y="325.95" font-size="8.3" fill="#1e1e1e" textLength="24.1" lengthAdjust="spacingAndGlyphs" stroke="#1e1e1e" stroke-width="0.12">10,000</text>
<text x="985.8" y="349.59" font-size="8.3" fill="#1e1e1e" textLength="24.1" lengthAdjust="spacingAndGlyphs" stroke="#1e1e1e" stroke-width="0.12">9,600</text>
<text x="985.8" y="373.22" font-size="8.3" fill="#1e1e1e" textLength="24.1" lengthAdjust="spacingAndGlyphs" stroke="#1e1e1e" stroke-width="0.12">9,200</text>
<text x="985.8" y="396.86" font-size="8.3" fill="#1e1e1e" textLength="24.1" lengthAdjust="spacingAndGlyphs" stroke="#1e1e1e" stroke-width="0.12">8,800</text>
<text x="985.8" y="420.5" font-size="8.3" fill="#1e1e1e" textLength="24.1" lengthAdjust="spacingAndGlyphs" stroke="#1e1e1e" stroke-width="0.12">8,400</text>
<text x="985.8" y="444.14" font-size="8.3" fill="#1e1e1e" textLength="24.1" lengthAdjust="spacingAndGlyphs" stroke="#1e1e1e" stroke-width="0.12">8,000</text>
<text x="985.8" y="467.77" font-size="8.3" fill="#1e1e1e" textLength="24.1" lengthAdjust="spacingAndGlyphs" stroke="#1e1e1e" stroke-width="0.12">7,600</text>
<text x="985.8" y="491.41" font-size="8.3" fill="#1e1e1e" textLength="24.1" lengthAdjust="spacingAndGlyphs" stroke="#1e1e1e" stroke-width="0.12">7,200</text>
<text x="985.8" y="515.05" font-size="8.3" fill="#1e1e1e" textLength="24.1" lengthAdjust="spacingAndGlyphs" stroke="#1e1e1e" stroke-width="0.12">6,800</text>
<rect x="982.4" y="4.3" width="38.8" height="17.3" rx="2" fill="#fff" stroke="#eef2f2" stroke-width="1"/>
<text x="984.9" y="15.9" font-size="8.4" fill="#2a2a2a" textLength="13.1" lengthAdjust="spacingAndGlyphs">JPY</text>
<path d="M1014.5 13.4l1.6 1.4 1.6-1.4" fill="none" stroke="#333" stroke-width="1.15" stroke-linecap="round" stroke-linejoin="round"/>
<rect x="956.9" y="60" width="22.3" height="11.1" rx="1.2" fill="#5b9b82"/>
<text x="959.9" y="68.2" font-size="8" fill="#fff" textLength="16.9" lengthAdjust="spacingAndGlyphs" stroke="#fff" stroke-width="0.2">6368</text>
<path d="M980.1 60h39.5a1.2 1.2 0 0 1 1.2 1.2v18.2a1.2 1.2 0 0 1-1.2 1.2h-38.3a1.2 1.2 0 0 1-1.2-1.2z" fill="#5b9b82"/>
<text x="986" y="67.6" font-size="8" fill="#fff" font-weight="bold" textLength="23.7" lengthAdjust="spacingAndGlyphs">14,375</text>
<text x="985.8" y="77.3" font-size="7.9" fill="#e4f1ec" textLength="31.3" lengthAdjust="spacingAndGlyphs">01:17:38</text>
<path d="M997.45 527.55L999.8 523.4H1004.6L1006.95 527.55L1004.6 531.7H999.8Z" fill="none" stroke="#333" stroke-width="1" stroke-linejoin="round"/>
<circle cx="1002.2" cy="527.55" r="1.55" fill="none" stroke="#333" stroke-width="1"/>
</g>
<g id="timeaxis" font-weight="bold">
<text x="4.6" y="530.3" font-size="8.5" fill="#1a1a1a" font-weight="bold" textLength="5.5" lengthAdjust="spacingAndGlyphs">月</text>
<text x="171.7" y="530.3" font-size="8.5" fill="#1a1a1a" font-weight="bold" text-anchor="middle">7月</text>
<text x="347.25" y="530.3" font-size="8.5" fill="#1a1a1a" font-weight="bold" text-anchor="middle">8月</text>
<text x="506.75" y="530.3" font-size="8.5" fill="#1a1a1a" font-weight="bold" text-anchor="middle">9月</text>
<text x="665.75" y="530.3" font-size="8.5" fill="#1a1a1a" font-weight="bold" text-anchor="middle">10月</text>
<text x="840.6" y="530.3" font-size="8.5" fill="#1a1a1a" font-weight="bold" text-anchor="middle">11月</text>
</g>
<g id="legend">
<rect x="10" y="6" width="396" height="15" fill="#fff"/>
<circle cx="17" cy="13.4" r="6.05" fill="#f0f1fc"/>
<rect x="12.3" y="12.1" width="2.5" height="2.5" rx="1.1" fill="#5069dc"/><rect x="14.6" y="13" width="1.4" height="0.8" fill="#93a2ea"/><rect x="15.9" y="12.2" width="2.4" height="2.4" rx="0.7" fill="#5069dc"/><rect x="18.7" y="12.2" width="2.6" height="2.4" rx="0.7" fill="#5069dc"/>
<text font-size="10" fill="#1c1c1c" stroke="#1c1c1c" stroke-width="0.1"><tspan x="26.25" y="18" font-size="10.2" font-weight="500" textLength="38.8" lengthAdjust="spacingAndGlyphs">オルガノ</tspan><tspan x="70.5" y="17.3" font-weight="bold">·</tspan><tspan x="76.9" y="17.4" font-size="9.7" font-weight="500" textLength="13.7" lengthAdjust="spacingAndGlyphs">1日</tspan><tspan x="94.2" y="17.3" font-weight="bold">·</tspan><tspan x="101.9" y="17.25" textLength="16.2" lengthAdjust="spacingAndGlyphs">TSE</tspan></text>
<path d="M129 7.5h7.6v11.9h-7.6a5.95 5.95 0 0 1 0-11.9z" fill="#e3efeb"/>
<path d="M136.6 7.5h7.3a5.95 5.95 0 0 1 0 11.9h-7.3z" fill="#fbeedd"/>
<circle cx="130.8" cy="13.5" r="2.5" fill="#4f9a80"/>
<text x="142.6" y="16.6" font-size="8.5" fill="#e0803a" font-weight="bold" text-anchor="middle">D</text>
<text x="156.4" y="17.3" font-size="8.4" fill="#262626" font-weight="500" textLength="16.9" lengthAdjust="spacingAndGlyphs">始値</text>
<text x="174.5" y="16.9" font-size="8.6" fill="#66a48d" textLength="25.4" lengthAdjust="spacingAndGlyphs">14,100</text>
<text x="204.7" y="17.3" font-size="8.4" fill="#262626" font-weight="500" textLength="16.9" lengthAdjust="spacingAndGlyphs">高値</text>
<text x="223.1" y="16.9" font-size="8.6" fill="#66a48d" textLength="25" lengthAdjust="spacingAndGlyphs">14,570</text>
<text x="253.1" y="17.3" font-size="8.4" fill="#262626" font-weight="500" textLength="16.6" lengthAdjust="spacingAndGlyphs">安値</text>
<text x="271.2" y="16.9" font-size="8.6" fill="#66a48d" textLength="25.7" lengthAdjust="spacingAndGlyphs">14,070</text>
<text x="301.2" y="17.3" font-size="8.4" fill="#262626" font-weight="500" textLength="16.7" lengthAdjust="spacingAndGlyphs">終値</text>
<text x="319.7" y="16.9" font-size="8.6" fill="#66a48d" textLength="25.3" lengthAdjust="spacingAndGlyphs">14,375</text>
<text x="349.7" y="16.9" font-size="8.6" fill="#66a48d" textLength="53.5" lengthAdjust="spacingAndGlyphs">+250 (+1.77%)</text>
<rect x="10.3" y="25.3" width="41.3" height="22.4" rx="3.2" fill="#fff" stroke="#e2626e" stroke-width="0.9"/>
<text x="31.2" y="34.4" font-size="8.2" fill="#d8404f" font-weight="bold" text-anchor="middle" textLength="25" lengthAdjust="spacingAndGlyphs">14,375</text>
<text x="30.4" y="43.9" font-size="7.6" fill="#e2707b" text-anchor="middle" textLength="14.4" lengthAdjust="spacingAndGlyphs">売り</text>
<text x="58.8" y="38" font-size="6.6" fill="#222" font-weight="bold" text-anchor="middle">0</text>
<rect x="66.5" y="25.3" width="40" height="22.4" rx="3.2" fill="#fff" stroke="#6e73f4" stroke-width="0.9"/>
<text x="86.9" y="34.4" font-size="8.2" fill="#5258ea" font-weight="bold" text-anchor="middle" textLength="25" lengthAdjust="spacingAndGlyphs">14,375</text>
<text x="86.4" y="43.9" font-size="7.6" fill="#6a70f0" text-anchor="middle" textLength="14.4" lengthAdjust="spacingAndGlyphs">買い</text>
<text x="10.6" y="61.9" font-size="8.2" fill="#2a2a2a" textLength="15.4" lengthAdjust="spacingAndGlyphs" stroke="#2a2a2a" stroke-width="0.25">SMA</text>
<text x="28.4" y="61.9" font-size="8.2" fill="#5a5a5a" textLength="31.3" lengthAdjust="spacingAndGlyphs">25 close</text>
<circle cx="71.2" cy="58.5" r="5.9" fill="#f1e7ff"/>
<circle cx="71.2" cy="58.5" r="3.45" fill="#faf6ff" stroke="#7a2ee0" stroke-width="1.4"/>
<path d="M73.4 56.1l2.6 1.3-2.3 1.4z" fill="#6a1fd8"/><path d="M69 60.9l-2.6-1.3 2.3-1.4z" fill="#6a1fd8"/>
<text x="83.5" y="61.9" font-size="8.4" fill="#e18a4b" textLength="25.9" lengthAdjust="spacingAndGlyphs">12,739</text>
<text x="11" y="78.7" font-size="8.6" fill="#2a2a2a" font-weight="500" textLength="25.9" lengthAdjust="spacingAndGlyphs">出来高</text>
<text x="42.5" y="78.1" font-size="8.2" fill="#66a48d" textLength="28.1" lengthAdjust="spacingAndGlyphs">220.9 K</text>
<rect x="10.5" y="85.5" width="19" height="13" rx="2" fill="#fff" stroke="#e3e3e3" stroke-width="0.9"/>
<path d="M17.3 93.3l2.7-2.5 2.7 2.5" fill="none" stroke="#222" stroke-width="1.1" stroke-linecap="round" stroke-linejoin="round"/>
</g>
<g id="toolbar">
<rect x="5" y="536.7" width="1019" height="1" fill="#ece8ea"/>
<text x="15" y="554.3" font-size="9.1" fill="#2e2e2e" font-weight="500" textLength="12.3" lengthAdjust="spacingAndGlyphs">1日</text>
<text x="36.9" y="554.3" font-size="9.1" fill="#2e2e2e" font-weight="500" textLength="13.1" lengthAdjust="spacingAndGlyphs">5日</text>
<text x="59.7" y="554.3" font-size="9.1" fill="#2e2e2e" font-weight="500" textLength="22.2" lengthAdjust="spacingAndGlyphs">1ヶ月</text>
<text x="91" y="554.3" font-size="9.1" fill="#2e2e2e" font-weight="500" textLength="22.8" lengthAdjust="spacingAndGlyphs">3ヶ月</text>
<text x="123" y="554.3" font-size="9.1" fill="#2e2e2e" font-weight="500" textLength="22.5" lengthAdjust="spacingAndGlyphs">6ヶ月</text>
<text x="155.1" y="554.3" font-size="9.1" fill="#2e2e2e" font-weight="500" textLength="27.5" lengthAdjust="spacingAndGlyphs">年初来</text>
<text x="192" y="554.3" font-size="9.1" fill="#2e2e2e" font-weight="500" textLength="12.8" lengthAdjust="spacingAndGlyphs">1年</text>
<text x="213.6" y="554.3" font-size="9.1" fill="#2e2e2e" font-weight="500" textLength="13.4" lengthAdjust="spacingAndGlyphs">5年</text>
<text x="236.9" y="554.3" font-size="9.1" fill="#2e2e2e" font-weight="500" textLength="25" lengthAdjust="spacingAndGlyphs">すべて</text>
<rect x="270" y="542.8" width="0.8" height="15" fill="#e6e6e6"/>
<g fill="none" stroke="#2a2a2a" stroke-width="1" stroke-linecap="round" stroke-linejoin="round">
<path d="M280.3 548.6v-2.4a1 1 0 0 1 1-1h9.8a1 1 0 0 1 1 1v7.8a1.4 1.4 0 0 1-1.4 1.4h-4.5"/>
<path d="M280.5 547.4h11.4"/><path d="M283.5 543.3v2"/><path d="M288.4 543.3v2"/>
<path d="M279.3 553.3h5.2"/><path d="M282.8 551.4l1.9 1.9-1.9 1.9"/>
</g>
<text x="899.7" y="553.7" font-size="9" fill="#2e2e2e" textLength="65.8" lengthAdjust="spacingAndGlyphs" stroke="#2e2e2e" stroke-width="0.12">14:33:20 UTC+9</text>
<rect x="972" y="543" width="0.8" height="14.5" fill="#e6e6e6"/>
<text x="979.8" y="554" font-size="9.2" fill="#2e2e2e" font-weight="500" textLength="36.9" lengthAdjust="spacingAndGlyphs">配当調整</text>
</g>
</svg>
</body>
</html>
